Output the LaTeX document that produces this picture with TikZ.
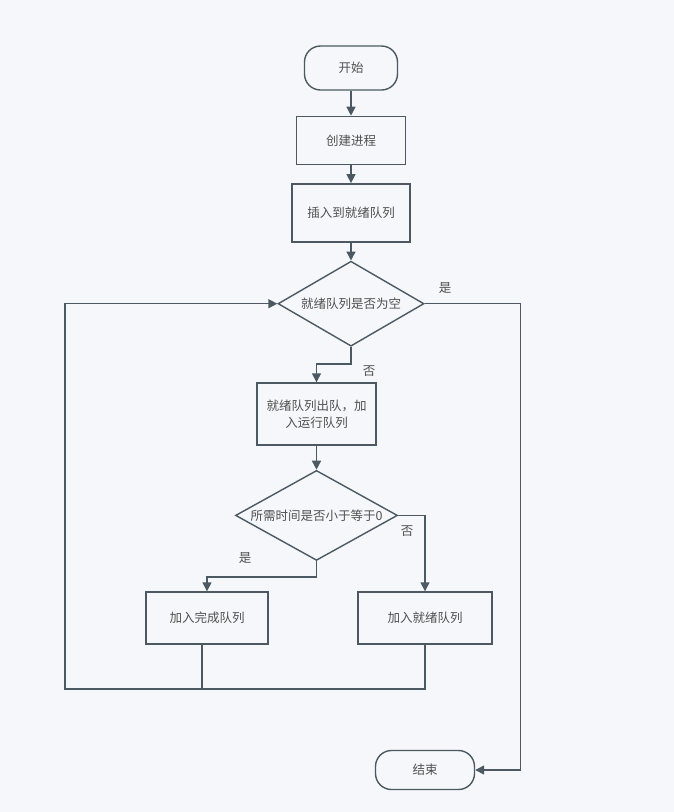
\documentclass[tikz,border=0pt]{standalone}
\usepackage{fontspec}
\setmainfont{Noto Sans CJK SC}
\usetikzlibrary{arrows.meta,positioning,shapes.geometric}
\definecolor{bgpaper}{RGB}{245,247,250}
\definecolor{linegray}{RGB}{76,89,98}
\definecolor{txtgray}{RGB}{80,80,80}
\begin{document}
\begin{tikzpicture}[x=1pt, y=-1pt,
    stepbox/.style={draw=linegray, line width=1.4pt, align=center, text=txtgray, font=\fontsize{12.5pt}{17pt}\selectfont, inner sep=0pt},
    term/.style={stepbox, rounded corners=16pt},
    cond/.style={stepbox, diamond},
    lbl/.style={text=txtgray, font=\fontsize{12.5pt}{17pt}\selectfont, inner sep=0pt},
    arr/.style={draw=linegray, line width=1.4pt, -{Triangle[length=9pt, width=9pt]}},
    wire/.style={draw=linegray, line width=1.4pt}]
  \fill[bgpaper] (0,0) rectangle (674,812);
  \useasboundingbox (0,0) rectangle (674,812);
  % main column
  \node[term, minimum width=93pt, minimum height=44pt] (start) at (351,68) {开始};
  \node[stepbox, minimum width=109pt, minimum height=48pt, below=25pt of start] (create) {创建进程};
  \node[stepbox, minimum width=118pt, minimum height=58pt, below=18pt of create] (insert) {插入到就绪队列};
  \node[cond, aspect=1.72, minimum width=146pt, minimum height=85pt, below=18pt of insert] (empty) {就绪队列是否为空};
  \node[stepbox, minimum width=119pt, minimum height=62pt] (dequeue) at (316.5,414) {就绪队列出队，加\\入运行队列};
  \node[cond, aspect=1.8, minimum width=162pt, minimum height=90pt, below=24pt of dequeue] (time) {所需时间是否小于等于0};
  % branches
  \node[stepbox, minimum width=122pt, minimum height=52pt] (done) at (207,618) {加入完成队列};
  \node[stepbox, minimum width=134pt, minimum height=52pt] (ready) at (425,618) {加入就绪队列};
  \node[term, minimum width=99pt, minimum height=39pt] (finish) at (425,770) {结束};
  \coordinate (loopbl) at (65,689);
  % labels
  \node[lbl] (yes1) at (445,288) {是};
  \node[lbl] (no1) at (369,371) {否};
  \node[lbl] (no2) at (407,531) {否};
  \node[lbl] (yes2) at (245,558) {是};
  % connectors
  \draw[arr] (start) -- (create);
  \draw[arr] (create) -- (insert);
  \draw[arr] (insert) -- (empty);
  \draw[arr] (empty.south) -- ++(0,17) -| (dequeue.north);
  \draw[arr] (dequeue) -- (time);
  \draw[arr] (time.east) -| (ready.north);
  \draw[arr] (time.south) -- ++(0,16) -| (done.north);
  \draw[wire] ([xshift=-5pt]done.south) -- ([xshift=-5pt]done.south |- loopbl);
  \draw[arr] (ready.south) |- (loopbl) |- (empty.west);
  \draw[arr] (empty.east) -- ++(96,0) |- (finish.east);
\end{tikzpicture}
\end{document}
